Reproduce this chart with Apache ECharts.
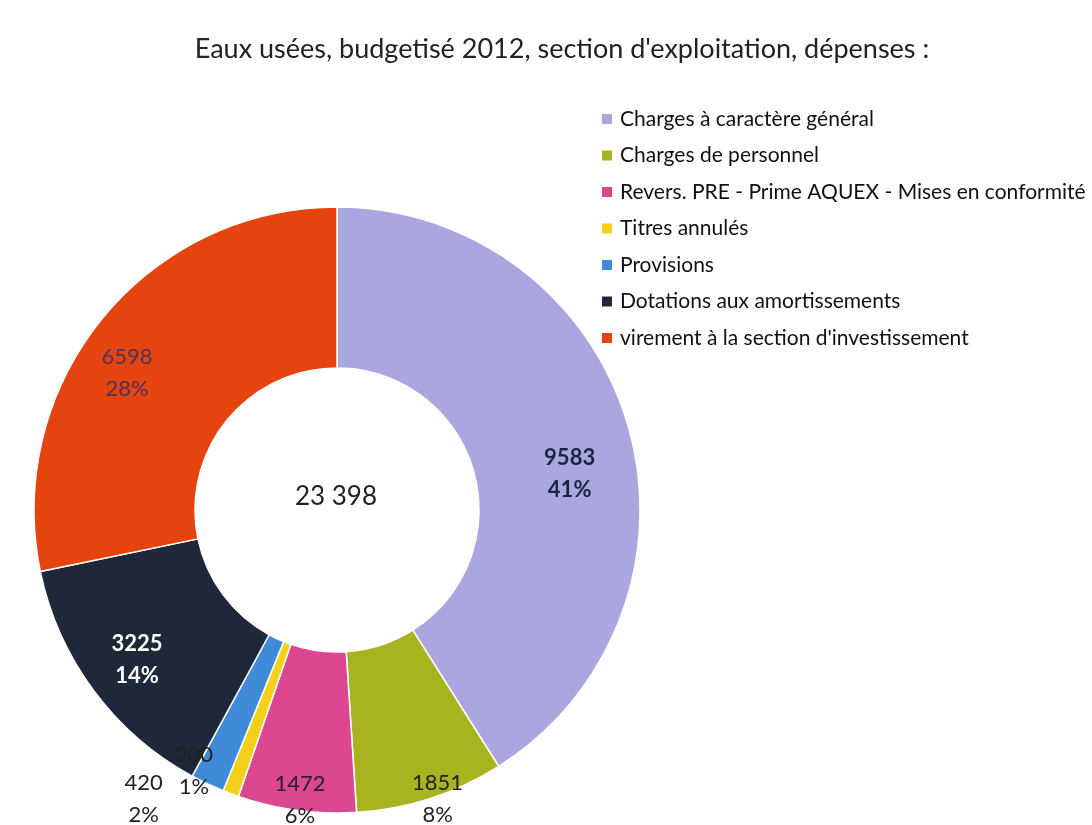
<!DOCTYPE html>
<html>
<head>
<meta charset="utf-8">
<script src="https://cdn.jsdelivr.net/npm/echarts@6/dist/echarts.min.js"></script>
<style>
  html, body { margin: 0; padding: 0; background: #fff; }
  #chart { width: 1092px; height: 825px; }
</style>
</head>
<body>
<div id="chart"></div>
<script>
'use strict';

const categories = [
  'Charges à caractère général',
  'Charges de personnel',
  'Revers. PRE - Prime AQUEX - Mises en conformité',
  'Titres annulés',
  'Provisions',
  'Dotations aux amortissements',
  "virement à la section d'investissement"
];
const values = [9583, 1851, 1472, 200, 420, 3225, 6598];
const percents = [41, 8, 6, 1, 2, 14, 28];
const totalLabel = '23 398';

const colors = ['#aaa6df', '#a7b41f', '#dc4790', '#f4d01a', '#3f8bd8', '#1f2838', '#e6440e'];
// label colour / weight per slice, and nudges away from the ring middle (Excel "best fit")
const labelColors = ['#1b2340', '#222', '#222', '#222', '#222', '#ffffff', '#4a3558'];
const labelBold = [true, false, false, false, false, true, false];
const labelShift = [[16, 27], [31, 74], [-7, 66], [-64, 50], [-97, 85], [-19, 15], [-35, 5]];

const font = 'Lato, "Open Sans", sans-serif';

const chart = echarts.init(document.getElementById('chart'), null, { renderer: 'canvas' });

const data = categories.map((name, i) => ({
  name: name,
  value: values[i],
  itemStyle: { color: colors[i] },
  label: {
    color: labelColors[i],
    fontWeight: labelBold[i] ? 'bold' : 'normal'
  }
}));

chart.setOption({
  animation: false,
  title: {
    text: "Eaux usées, budgetisé 2012, section d'exploitation, dépenses :",
    left: 557,
    top: 31,
    textAlign: 'center',
    textStyle: { fontFamily: font, fontSize: 27, fontWeight: 'normal', color: '#222' }
  },
  legend: {
    orient: 'vertical',
    left: 595,
    top: 103,
    itemWidth: 12,
    itemHeight: 12,
    itemGap: 14.5,
    icon: 'rect',
    data: categories,
    textStyle: { fontFamily: font, fontSize: 21, color: '#111', lineHeight: 22, padding: [0, 0, 0, 2] }
  },
  graphic: [{
    type: 'text',
    x: 336,
    y: 497,
    style: {
      text: totalLabel, fontFamily: font, fontSize: 26, fill: '#222',
      align: 'center', verticalAlign: 'middle'
    }
  }],
  series: [{
    type: 'pie',
    center: [337, 510],
    radius: [142, 303],
    startAngle: 90,
    clockwise: true,
    avoidLabelOverlap: false,
    itemStyle: { borderColor: '#fff', borderWidth: 1.5 },
    label: {
      show: true,
      position: 'inside',
      fontFamily: font,
      fontSize: 22,
      lineHeight: 32,
      formatter: p => p.value + '\n' + percents[p.dataIndex] + '%'
    },
    labelLine: { show: false },
    labelLayout: p => ({ dx: labelShift[p.dataIndex][0], dy: labelShift[p.dataIndex][1] }),
    data: data
  }]
});
</script>
</body>
</html>
